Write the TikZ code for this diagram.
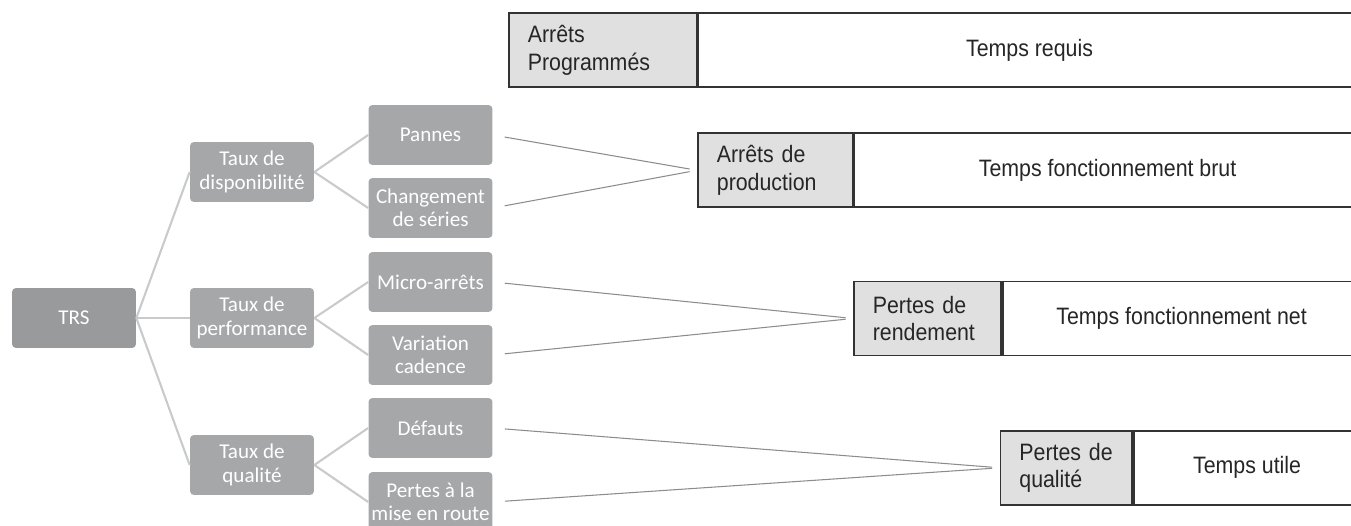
\documentclass[tikz,border=0pt]{standalone}
\usepackage{fontspec}
\setmainfont{Liberation Sans}
\newfontfamily\arialfont[FakeStretch=0.9]{Liberation Sans}
\newfontfamily\calfont{Carlito}
\usetikzlibrary{positioning}

\definecolor{trsgray}{HTML}{999A9C}
\definecolor{boxgray}{HTML}{A6A7A9}
\definecolor{linkgray}{HTML}{C9CACC}
\definecolor{cellgray}{HTML}{E0E0E0}
\definecolor{edgegray}{HTML}{333333}

\tikzset{
  tree box/.style={rectangle, rounded corners=0.08cm, fill=boxgray, text=white,
    font=\calfont\fontsize{12}{13.3}\selectfont, align=center,
    minimum width=2.48cm, minimum height=1.2cm, inner xsep=0pt},
  tree link/.style={draw=linkgray, line width=1.2pt},
  loss cell/.style={rectangle, draw=edgegray, line width=1pt, fill=cellgray, text=black!85,
    font=\arialfont\fontsize{13.5}{15.6}\selectfont, align=left, anchor=west,
    minimum height=1.48cm, inner xsep=0.38cm, text width=#1},
  time cell/.style={rectangle, draw=edgegray, line width=1pt, fill=white, text=black!85,
    font=\arialfont\fontsize{13.5}{15.6}\selectfont,
    minimum height=1.48cm, minimum width=#1},
  loss link/.style={draw=gray!90, line width=0.6pt, shorten <=0.24cm, shorten >=0.15cm},
}

\begin{document}
\begin{tikzpicture}[x=0.02cm, y=-0.02cm]
  \clip (0,0) rectangle (1351,526);

  \node [tree box, fill=trsgray] (trs) at (74,318) {TRS};
  \node [tree box] (td) at (252,172) {Taux de\\disponibilité};
  \node [tree box] (tp) at (252,318) {Taux de\\performance};
  \node [tree box] (tq) at (252,465) {Taux de\\qualité};

  \node [tree box] (pan) at (430.5,135) {Pannes};
  \node [tree box] (chg) at (430.5,208) {Changement\\de séries};
  \node [tree box] (mic) at (430.5,282) {Micro-arrêts};
  \node [tree box] (var) at (430.5,355) {Variation\\cadence};
  \node [tree box] (def) at (430.5,428) {Défauts};
  \node [tree box] (pmr) at (430.5,502) {Pertes à la\\mise en route};

  \node [loss cell=3.00cm] (ap) at (508,50.3) {Arrêts\\Programmés};
  \node [time cell=13.24cm, right=0pt of ap] (treq) {Temps requis};
  \node [loss cell=2.34cm] (ad) at (697,170.3) {Arrêts de\\production};
  \node [time cell=10.12cm, right=0pt of ad] (tbrut) {Temps fonctionnement brut};
  \node [loss cell=2.18cm] (pr) at (853,318.5) {Pertes de\\rendement};
  \node [time cell=7.16cm, right=0pt of pr] (tnet) {Temps fonctionnement net};
  \node [loss cell=1.88cm] (pq) at (999.5,467.8) {Pertes de\\qualité};
  \node [time cell=4.52cm, right=0pt of pq] (tutil) {Temps utile};

  \foreach \c in {td,tp,tq}
    \draw [tree link] (trs.east) -- (\c.west);
  \draw [tree link] (td.east) -- (pan.west);
  \draw [tree link] (td.east) -- (chg.west);
  \draw [tree link] (tp.east) -- (mic.west);
  \draw [tree link] (tp.east) -- (var.west);
  \draw [tree link] (tq.east) -- (def.west);
  \draw [tree link] (tq.east) -- (pmr.west);

  \draw [loss link] (pan.east) -- (ad.west);
  \draw [loss link] (chg.east) -- (ad.west);
  \draw [loss link] (mic.east) -- (pr.west);
  \draw [loss link] (var.east) -- (pr.west);
  \draw [loss link] (def.east) -- (pq.west);
  \draw [loss link] (pmr.east) -- (pq.west);
\end{tikzpicture}
\end{document}
